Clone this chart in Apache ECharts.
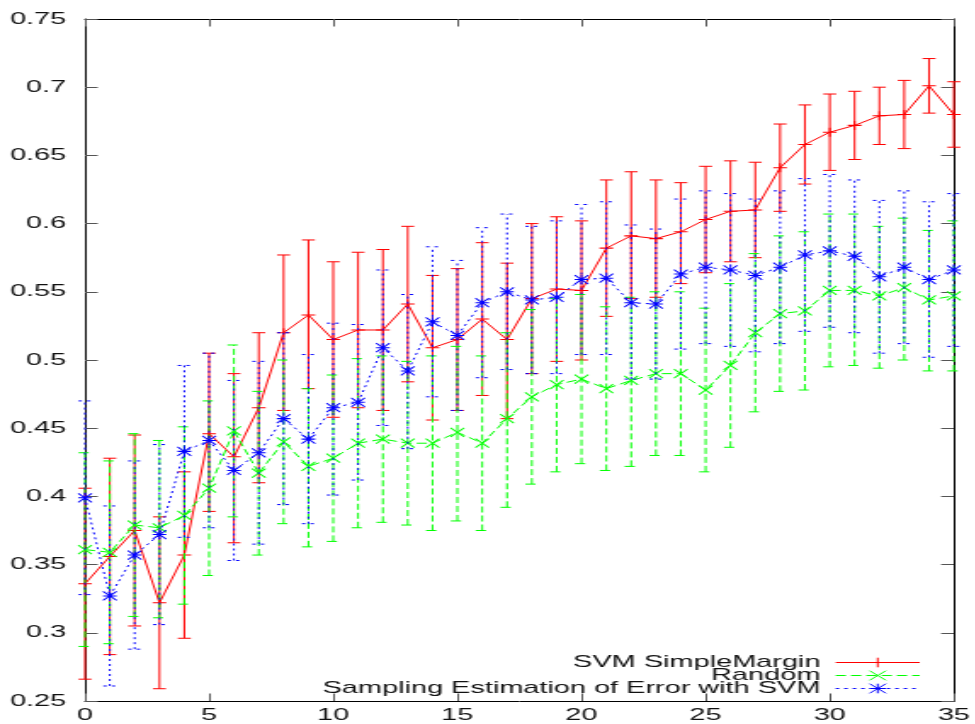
<!DOCTYPE html>
<html>
<head>
<meta charset="utf-8">
<script src="https://cdn.jsdelivr.net/npm/echarts@6/dist/echarts.min.js"></script>
<style>
html,body{margin:0;padding:0;background:#fff;overflow:hidden;}
#wrap{width:975px;height:724px;overflow:hidden;}
#chart{width:573.53px;height:724px;transform:scaleX(1.7);transform-origin:0 0;}
</style>
</head>
<body>
<div id="wrap"><div id="chart"></div></div>
<script>
const xs = [0,1,2,3,4,5,6,7,8,9,10,11,12,13,14,15,16,17,18,19,20,21,22,23,24,25,26,27,28,29,30,31,32,33,34,35];
const seriesNames = ['SVM SimpleMargin', 'Random', 'Sampling Estimation of Error with SVM'];
const yTicks = [0.25,0.3,0.35,0.4,0.45,0.5,0.55,0.6,0.65,0.7,0.75];

const svmMean = [0.336,0.356,0.375,0.322,0.357,0.446,0.429,0.465,0.520,0.533,0.515,0.522,0.522,0.541,0.509,0.515,0.530,0.515,0.545,0.552,0.551,0.582,0.591,0.589,0.594,0.603,0.609,0.610,0.641,0.658,0.667,0.672,0.679,0.680,0.701,0.680];
const svmHigh = [0.406,0.428,0.445,0.385,0.418,0.505,0.490,0.520,0.577,0.588,0.572,0.579,0.581,0.598,0.562,0.567,0.586,0.571,0.600,0.605,0.602,0.632,0.638,0.632,0.630,0.642,0.646,0.645,0.673,0.687,0.695,0.697,0.700,0.705,0.721,0.704];
const svmLow  = [0.266,0.284,0.305,0.259,0.296,0.389,0.366,0.410,0.463,0.479,0.458,0.465,0.463,0.484,0.456,0.463,0.474,0.457,0.490,0.499,0.500,0.532,0.545,0.546,0.556,0.564,0.572,0.575,0.609,0.629,0.639,0.647,0.658,0.655,0.681,0.656];

const rndMean = [0.361,0.359,0.379,0.377,0.386,0.406,0.448,0.417,0.440,0.422,0.428,0.439,0.442,0.439,0.439,0.447,0.439,0.457,0.473,0.482,0.486,0.479,0.485,0.490,0.490,0.478,0.496,0.520,0.534,0.536,0.551,0.551,0.547,0.553,0.544,0.547];
const rndHigh = [0.432,0.426,0.446,0.441,0.451,0.470,0.511,0.477,0.500,0.479,0.489,0.501,0.503,0.499,0.503,0.510,0.503,0.520,0.537,0.545,0.548,0.539,0.546,0.550,0.550,0.538,0.556,0.578,0.591,0.594,0.607,0.607,0.598,0.604,0.595,0.602];
const rndLow  = [0.290,0.292,0.312,0.311,0.321,0.342,0.385,0.357,0.380,0.363,0.367,0.377,0.381,0.379,0.375,0.382,0.375,0.392,0.409,0.418,0.424,0.419,0.422,0.430,0.430,0.418,0.436,0.462,0.477,0.478,0.495,0.496,0.494,0.500,0.492,0.492];

const seMean = [0.399,0.327,0.357,0.372,0.433,0.441,0.419,0.432,0.457,0.442,0.465,0.469,0.509,0.492,0.528,0.518,0.542,0.550,0.544,0.546,0.559,0.560,0.542,0.541,0.563,0.568,0.566,0.562,0.568,0.577,0.580,0.576,0.561,0.568,0.559,0.566];
const seHigh = [0.470,0.393,0.426,0.438,0.496,0.505,0.485,0.499,0.520,0.504,0.527,0.526,0.566,0.548,0.583,0.573,0.597,0.607,0.598,0.602,0.614,0.616,0.599,0.596,0.618,0.624,0.622,0.618,0.624,0.633,0.636,0.632,0.617,0.624,0.616,0.622];
const seLow  = [0.328,0.261,0.288,0.306,0.370,0.377,0.353,0.365,0.394,0.380,0.401,0.412,0.452,0.435,0.473,0.463,0.487,0.493,0.490,0.490,0.504,0.504,0.486,0.486,0.508,0.512,0.510,0.506,0.512,0.521,0.524,0.520,0.505,0.512,0.502,0.510];

const FONT = 'Liberation Sans';
const colors = ['#ff0000', '#00ff00', '#0000ff'];
const dashes = [null, [6, 3], [2, 3]];
const symbols = [
  'path://M0,5L10,5M5,0L5,10',
  'path://M0,0L10,10M10,0L0,10',
  'path://M0,5L10,5M5,0L5,10M0,0L10,10M10,0L0,10'
];
const means = [svmMean, rndMean, seMean];
const highs = [svmHigh, rndHigh, seHigh];
const lows = [svmLow, rndLow, seLow];

function errRender(color, dash) {
  return function (params, api) {
    const x = api.value(0);
    const lo = api.coord([x, api.value(1)]);
    const hi = api.coord([x, api.value(2)]);
    const hw = 3.8;
    const st = { stroke: color, lineWidth: 1, lineDash: dash || null, fill: null };
    return {
      type: 'group',
      children: [
        { type: 'line', shape: { x1: lo[0], y1: lo[1], x2: hi[0], y2: hi[1] }, style: st },
        { type: 'line', shape: { x1: lo[0] - hw, y1: lo[1], x2: lo[0] + hw, y2: lo[1] }, style: st },
        { type: 'line', shape: { x1: hi[0] - hw, y1: hi[1], x2: hi[0] + hw, y2: hi[1] }, style: st }
      ]
    };
  };
}

const series = [];
for (let k = 0; k < 3; k++) {
  series.push({
    type: 'custom',
    name: seriesNames[k] + ' error',
    clip: false,
    silent: true,
    renderItem: errRender(colors[k], dashes[k]),
    data: xs.map((x, i) => [x, lows[k][i], highs[k][i]]),
    z: 2 + k * 2
  });
  series.push({
    type: 'line',
    name: seriesNames[k],
    clip: false,
    data: xs.map((x, i) => [x, means[k][i]]),
    symbol: symbols[k],
    symbolSize: [8, 9],
    showSymbol: true,
    lineStyle: { color: colors[k], width: 1, type: dashes[k] || 'solid' },
    itemStyle: { color: colors[k], borderColor: colors[k], borderWidth: 1 },
    emphasis: { disabled: true },
    animation: false,
    z: 3 + k * 2
  });
}

const axisCommon = {
  type: 'value',
  axisLine: { show: true, onZero: false, lineStyle: { color: '#000', width: 1 } },
  axisTick: { show: true, inside: true, length: 7.5, lineStyle: { color: '#555', width: 1 } },
  splitLine: { show: false }
};

const chart = echarts.init(document.getElementById('chart'), null, { renderer: 'canvas' });
chart.setOption({
  animation: false,
  backgroundColor: '#fff',
  grid: { left: 50, right: 12.9, top: 19, bottom: 21, containLabel: false },
  xAxis: [
    Object.assign({}, axisCommon, {
      position: 'bottom', min: 0, max: 35, interval: 5,
      axisLabel: { show: true, margin: 6, color: '#111', fontFamily: FONT, fontSize: 17 }
    }),
    Object.assign({}, axisCommon, {
      position: 'top', min: 0, max: 35, interval: 5,
      axisLabel: { show: false }
    })
  ],
  yAxis: [
    Object.assign({}, axisCommon, {
      position: 'left', min: yTicks[0], max: yTicks[yTicks.length - 1], interval: 0.05,
      axisLabel: {
        show: true, margin: 11, color: '#111', fontFamily: FONT, fontSize: 17,
        formatter: v => String(Number(v.toFixed(2)))
      }
    }),
    Object.assign({}, axisCommon, {
      position: 'right', min: yTicks[0], max: yTicks[yTicks.length - 1], interval: 0.05,
      axisLabel: { show: false }
    })
  ],
  legend: {
    data: seriesNames,
    orient: 'vertical',
    align: 'right',
    right: 27.5,
    bottom: 22,
    itemWidth: 49.4,
    itemHeight: 12,
    itemGap: -4,
    selectedMode: false,
    lineStyle: { width: 1 },
    itemStyle: { borderWidth: 1 },
    textStyle: { color: '#111', fontFamily: FONT, fontSize: 17, lineHeight: 13, padding: [0, 4, 0, 0] }
  },
  series: series
});
</script>
</body>
</html>
